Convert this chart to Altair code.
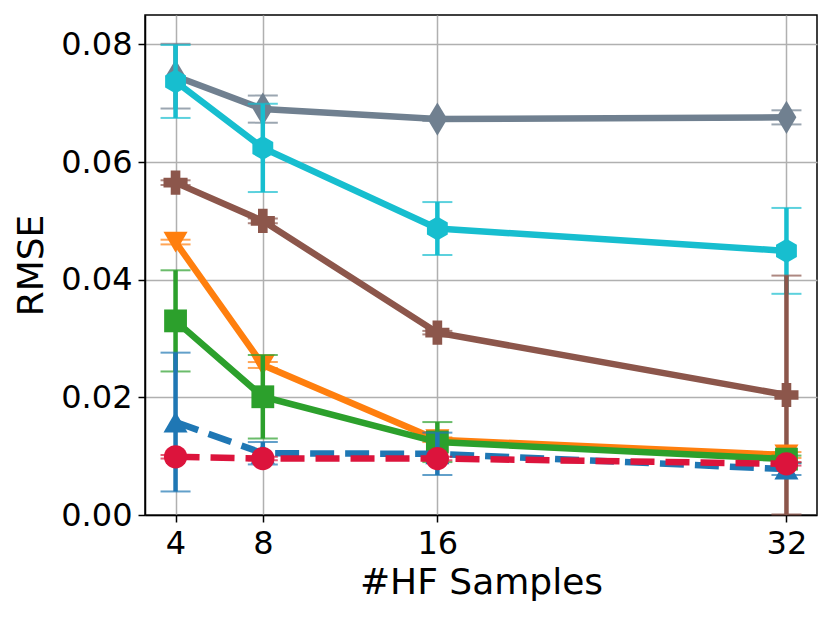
import altair as alt
import pandas as pd

samples = [4, 8, 16, 32]
series_names = ["gray", "cyan", "brown", "orange", "green", "blue", "red"]

means = {
    "gray":   [0.0746, 0.0690, 0.0673, 0.0676],
    "cyan":   [0.0737, 0.0624, 0.0487, 0.0449],
    "brown":  [0.0565, 0.0500, 0.0310, 0.0204],
    "orange": [0.0464, 0.0255, 0.0128, 0.0102],
    "green":  [0.0330, 0.0201, 0.0124, 0.0095],
    "blue":   [0.0158, 0.0105, 0.0104, 0.0078],
    "red":    [0.0099, 0.0096, 0.0096, 0.0087],
}
errs = {
    "gray":   [0.0055, 0.0023, 0.0003, 0.0012],
    "cyan":   [0.0062, 0.0075, 0.0045, 0.0073],
    "brown":  [0.0004, 0.0004, 0.0003, 0.0203],
    "orange": [0.0004, 0.0005, 0.0004, 0.0005],
    "green":  [0.0086, 0.0071, 0.0034, 0.0006],
    "blue":   [0.0118, 0.0019, 0.0036, 0.0010],
    "red":    [0.0003, 0.0003, 0.0003, 0.0003],
}
colors = {
    "gray": "#708090", "cyan": "#17becf", "brown": "#8c564b", "orange": "#ff7f0e",
    "green": "#2ca02c", "blue": "#1f77b4", "red": "#dc143c",
}
shapes = {
    "gray": "M0,-1L0.6,0L0,1L-0.6,0Z",
    "cyan": "M0,-1L0.866,-0.5L0.866,0.5L0,1L-0.866,0.5L-0.866,-0.5Z",
    "brown": "cross",
    "orange": "triangle-down",
    "green": "square",
    "blue": "triangle-up",
    "red": "circle",
}
marker_sizes = {
    "gray": 1100, "cyan": 580, "brown": 580, "orange": 580,
    "green": 520, "blue": 580, "red": 540,
}
dashed = {"blue", "red"}

rows = []
for s in series_names:
    for xv, m, e in zip(samples, means[s], errs[s]):
        rows.append({"series": s, "x": xv, "y": m, "lo": m - e, "hi": m + e})
df = pd.DataFrame(rows)

FONT = "DejaVu Sans"
xscale = alt.Scale(domain=[2.6, 33.4], nice=False, zero=False)
yscale = alt.Scale(domain=[0, 0.085], nice=False, zero=False)
xaxis = alt.Axis(values=samples, title="#HF Samples", format="d")
yaxis = alt.Axis(values=[0, 0.02, 0.04, 0.06, 0.08], format=".2f", title="RMSE")

layers = []
for s in series_names:
    sub = df[df.series == s]
    base = alt.Chart(sub)
    col = colors[s]
    line_kw = dict(color=col, strokeWidth=6.5)
    if s in dashed:
        line_kw["strokeDash"] = [24, 11]
    line = base.mark_line(**line_kw).encode(
        x=alt.X("x:Q", scale=xscale, axis=xaxis),
        y=alt.Y("y:Q", scale=yscale, axis=yaxis),
    )
    rule = base.mark_rule(color=col, strokeWidth=4.5).encode(
        x=alt.X("x:Q", scale=xscale, axis=xaxis),
        y=alt.Y("lo:Q", scale=yscale, axis=yaxis),
        y2="hi:Q",
    )
    cap_lo = base.mark_tick(color=col, orient="horizontal", size=30, thickness=2).encode(
        x=alt.X("x:Q", scale=xscale, axis=xaxis),
        y=alt.Y("lo:Q", scale=yscale, axis=yaxis),
    )
    cap_hi = base.mark_tick(color=col, orient="horizontal", size=30, thickness=2).encode(
        x=alt.X("x:Q", scale=xscale, axis=xaxis),
        y=alt.Y("hi:Q", scale=yscale, axis=yaxis),
    )
    pts = base.mark_point(filled=True, opacity=1, color=col, shape=shapes[s],
                          size=marker_sizes[s], strokeWidth=0).encode(
        x=alt.X("x:Q", scale=xscale, axis=xaxis),
        y=alt.Y("y:Q", scale=yscale, axis=yaxis),
    )
    layers += [line, rule, cap_lo, cap_hi, pts]

chart = alt.layer(*layers).properties(
    width=672, height=500,
    autosize=alt.AutoSizeParams(type="none"),
    padding={"left": 137, "top": 7, "right": 5, "bottom": 90},
).configure_view(
    stroke="black", strokeWidth=1.5
).configure_axis(
    labelFont=FONT, titleFont=FONT, labelFontSize=32, titleFontSize=36,
    labelColor="black", titleColor="black", titleFontWeight="normal",
    grid=True, gridColor="#b0b0b0", gridWidth=1.5,
    domain=True, domainColor="black", domainWidth=1.5,
    tickColor="black", tickWidth=1.5, tickSize=7,
    labelPadding=6,
).configure_axisY(
    titlePadding=10,
).configure_axisX(
    titlePadding=6,
)

chart.save("out.html", embed_options={"renderer": "svg", "actions": False})
